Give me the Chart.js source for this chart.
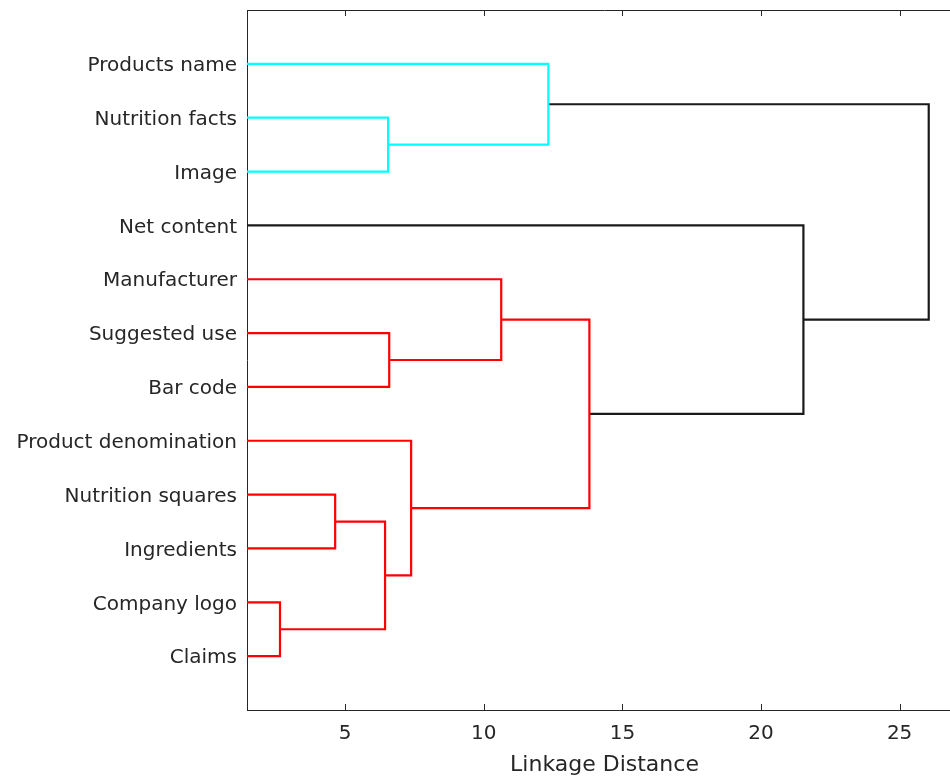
<!DOCTYPE html>
<html>
<head>
<meta charset="utf-8">
<script src="https://cdn.jsdelivr.net/npm/chart.js@4.4.1/dist/chart.umd.min.js"></script>
<style>
  html, body { margin: 0; padding: 0; background: #fff; overflow: hidden; }
  #wrap { width: 962px; height: 778px; }
</style>
</head>
<body>
<div id="wrap"><canvas id="dendro"></canvas></div>
<script>
// Leaves, top to bottom (y = 1..12)
const leafLabels = [
  "Products name", "Nutrition facts", "Image", "Net content",
  "Manufacturer", "Suggested use", "Bar code", "Product denomination",
  "Nutrition squares", "Ingredients", "Company logo", "Claims"
];

// Linkage: node ids 1..12 are leaves, 13.. are clusters in order
const linkLeft   = [11, 9, 14, 2, 6, 8, 5, 1, 19, 4, 20];
const linkRight  = [12, 10, 13, 3, 7, 15, 17, 16, 18, 21, 22];
const linkHeight = [2.65, 4.64, 6.44, 6.55, 6.59, 7.38, 10.63, 12.33, 13.81, 21.53, 26.05];
const linkColor  = ["#ff0000", "#ff0000", "#ff0000", "#00ffff", "#ff0000", "#ff0000",
                    "#ff0000", "#00ffff", "#ff0000", "#1a1a1a", "#1a1a1a"];

const xTicks = [5, 10, 15, 20, 25];

// node positions: y from leaf order, x = merge height
const nodeY = {};
const nodeX = {};
leafLabels.forEach((_, i) => { nodeY[i + 1] = i + 1; nodeX[i + 1] = 0; });

const datasets = linkHeight.map((h, k) => {
  const id = leafLabels.length + k + 1;
  const a = linkLeft[k], b = linkRight[k];
  nodeY[id] = (nodeY[a] + nodeY[b]) / 2;
  nodeX[id] = h;
  return {
    data: [
      { x: nodeX[a], y: nodeY[a] },
      { x: h, y: nodeY[a] },
      { x: h, y: nodeY[b] },
      { x: nodeX[b], y: nodeY[b] },
    ],
    showLine: true,
    borderColor: linkColor[k],
    borderWidth: 2.2,
    pointRadius: 0,
    tension: 0,
  };
});

const axisColor = "#262626";

// top frame line + inward tick marks (MATLAB style)
const frameTicks = {
  id: "frameTicks",
  afterDraw(chart) {
    const { ctx, chartArea } = chart;
    const xs = chart.scales.x;
    ctx.save();
    ctx.strokeStyle = axisColor;
    ctx.lineWidth = 1;
    ctx.beginPath();
    ctx.moveTo(chartArea.left, chartArea.top + 0.5);
    ctx.lineTo(chartArea.right, chartArea.top + 0.5);
    xTicks.forEach((v) => {
      const px = Math.round(xs.getPixelForValue(v)) + 0.5;
      ctx.moveTo(px, chartArea.top);
      ctx.lineTo(px, chartArea.top + 6);
      ctx.moveTo(px, chartArea.bottom);
      ctx.lineTo(px, chartArea.bottom - 6);
    });
    ctx.stroke();
    ctx.restore();
  },
};

new Chart(document.getElementById("dendro"), {
  type: "scatter",
  data: { datasets },
  options: {
    responsive: true,
    maintainAspectRatio: false,
    animation: false,
    layout: { padding: { top: 0, right: 0, bottom: 0, left: 0 } },
    plugins: { legend: { display: false }, tooltip: { enabled: false } },
    scales: {
      x: {
        type: "linear",
        min: 1.46,
        max: 27.25,
        afterBuildTicks: (scale) => { scale.ticks = xTicks.map((v) => ({ value: v })); },
        afterFit: (scale) => { scale.height = 68; },
        grid: { display: false, drawTicks: false },
        border: { display: true, color: axisColor, width: 1 },
        ticks: {
          color: axisColor,
          padding: 12,
          font: { family: "'DejaVu Sans'", size: 20 },
        },
        title: {
          display: true,
          text: "Linkage Distance",
          color: axisColor,
          padding: { top: 0, bottom: 0 },
          font: { family: "'DejaVu Sans'", size: 22 },
        },
      },
      y: {
        type: "linear",
        reverse: true,
        min: 0,
        max: 13,
        afterBuildTicks: (scale) => { scale.ticks = leafLabels.map((_, i) => ({ value: i + 1 })); },
        afterFit: (scale) => { scale.width = 247; scale.paddingTop = 10; scale.paddingBottom = 0; },
        grid: { display: false, drawTicks: false },
        border: { display: true, color: axisColor, width: 1 },
        ticks: {
          color: axisColor,
          padding: 10,
          labelOffset: 2,
          font: { family: "'DejaVu Sans'", size: 20 },
          callback: (v) => leafLabels[v - 1] || "",
        },
      },
    },
  },
  plugins: [frameTicks],
});
</script>
</body>
</html>
